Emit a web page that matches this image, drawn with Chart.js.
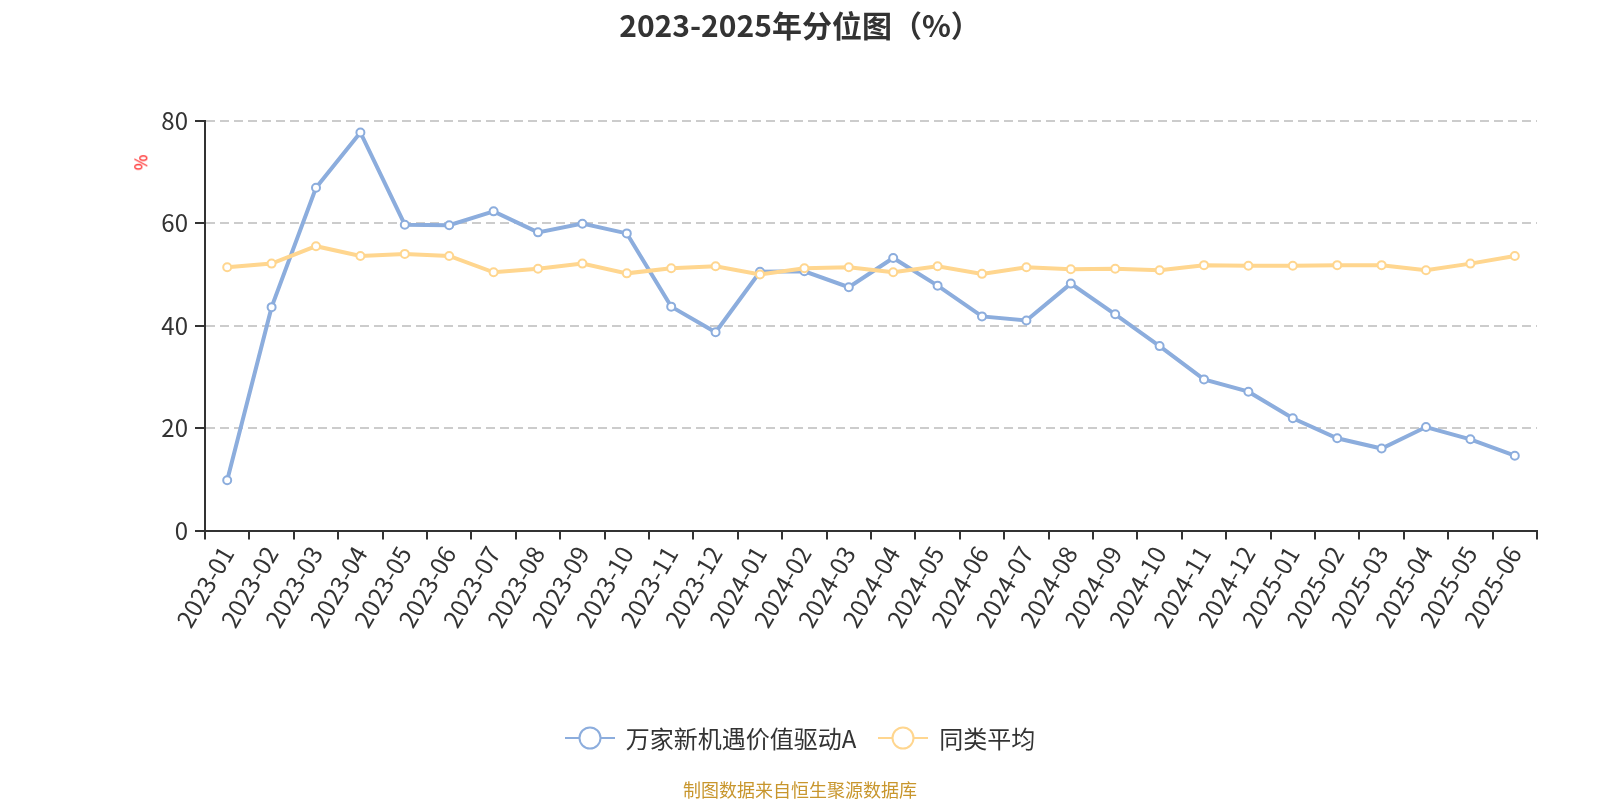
<!DOCTYPE html>
<html lang="zh-CN">
<head>
<meta charset="utf-8">
<title>2023-2025年分位图（%）</title>
<script src="https://cdn.jsdelivr.net/npm/chart.js@4.4.1/dist/chart.umd.min.js"></script>
<style>
  body { margin: 0; background: #fff; }
  #wrap { position: relative; width: 1600px; height: 800px; font-family: 'Noto Sans CJK SC', sans-serif; }
  #chart { position: absolute; left: 0; top: 0; }
  #title { position: absolute; left: 0; top: 2px; width: 1600px; text-align: center; font-size: 30px; font-weight: bold; color: #333; }
  #unit { position: absolute; left: 132px; top: 150px; font-size: 17px; color: red; transform: rotate(-90deg); }
  #legend { position: absolute; left: 0; top: 720px; width: 1600px; display: flex; justify-content: center; gap: 22px; }
  .legend-item { display: flex; align-items: center; gap: 11px; font-size: 24px; color: #333; }
  #source { position: absolute; left: 0; top: 776px; width: 1600px; text-align: center; font-size: 18px; color: #C8962D; }
</style>
</head>
<body>
<div id="wrap">
  <canvas id="chart" width="1600" height="800"></canvas>
  <div id="title">2023-2025年分位图（%）</div>
  <div id="unit">%</div>
  <div id="legend"></div>
  <div id="source">制图数据来自恒生聚源数据库</div>
</div>
<script>
// 月份
const months = [
  '2023-01', '2023-02', '2023-03', '2023-04', '2023-05', '2023-06',
  '2023-07', '2023-08', '2023-09', '2023-10', '2023-11', '2023-12',
  '2024-01', '2024-02', '2024-03', '2024-04', '2024-05', '2024-06',
  '2024-07', '2024-08', '2024-09', '2024-10', '2024-11', '2024-12',
  '2025-01', '2025-02', '2025-03', '2025-04', '2025-05', '2025-06'
];

// 基金分位
const fundValues = [
  9.8, 43.6, 66.9, 77.7, 59.7, 59.6, 62.3, 58.2, 59.9, 58.0, 43.7, 38.7,
  50.5, 50.6, 47.5, 53.2, 47.8, 41.8, 41.0, 48.2, 42.2, 36.0, 29.5, 27.1,
  21.9, 18.0, 16.0, 20.2, 17.8, 14.6
];

// 同类平均
const peerValues = [
  51.4, 52.1, 55.5, 53.6, 54.0, 53.6, 50.4, 51.1, 52.1, 50.2, 51.2, 51.6,
  50.0, 51.2, 51.4, 50.4, 51.6, 50.1, 51.4, 51.0, 51.1, 50.8, 51.8, 51.7,
  51.7, 51.8, 51.8, 50.8, 52.1, 53.6
];

const yTicks = [0, 20, 40, 60, 80];
const seriesNames = ['万家新机遇价值驱动A', '同类平均'];
const seriesColors = ['#8CADDD', '#FFD68F'];

/**
 * 图例（线 + 空心圆）
 */
function buildLegend() {
  const box = document.getElementById('legend');
  seriesNames.forEach((name, i) => {
    const c = seriesColors[i];
    box.innerHTML += `
      <div class="legend-item">
        <svg width="50" height="26">
          <line x1="0" y1="13" x2="50" y2="13" stroke="${c}" stroke-width="2"/>
          <circle cx="25" cy="13" r="10.5" fill="#fff" stroke="${c}" stroke-width="2"/>
        </svg>
        <span>${name}</span>
      </div>`;
  });
}

/**
 * 分位折线图
 */
function initQuantileChart() {
  const ctx = document.getElementById('chart').getContext('2d');
  Chart.defaults.font.family = "'Noto Sans CJK SC', sans-serif";

  const datasets = [fundValues, peerValues].map((values, i) => ({
    label: seriesNames[i],
    data: values,
    borderColor: seriesColors[i],
    backgroundColor: '#fff',
    pointBackgroundColor: '#fff',
    pointBorderColor: seriesColors[i],
    pointBorderWidth: 2,
    pointRadius: 4,
    borderWidth: 4,
    tension: 0,
    order: 2 - i
  }));

  new Chart(ctx, {
    type: 'line',
    data: { labels: months, datasets: datasets },
    options: {
      responsive: false,
      animation: false,
      layout: { padding: { top: 120.7, right: 63, bottom: 0, left: 0 } },
      plugins: {
        legend: { display: false },
        title: { display: false },
        tooltip: { enabled: false }
      },
      scales: {
        x: {
          type: 'category',
          offset: true,
          afterFit: scale => { scale.height = 800 - 530.5; },
          grid: {
            offset: true,
            drawOnChartArea: false,
            color: '#333',
            lineWidth: 2,
            tickLength: 9
          },
          border: { color: '#333', width: 2 },
          ticks: {
            color: '#333',
            font: { size: 24 },
            minRotation: 60,
            maxRotation: 60,
            autoSkip: false,
            padding: 2
          }
        },
        y: {
          min: 0,
          max: 80,
          afterFit: scale => { scale.width = 205; },
          afterBuildTicks: scale => { scale.ticks = yTicks.map(v => ({ value: v })); },
          grid: {
            color: '#ccc',
            lineWidth: 2,
            tickColor: '#333',
            tickWidth: 2,
            tickLength: 10,
            tickBorderDash: []
          },
          border: { color: '#333', width: 2, dash: [9, 5] },
          ticks: {
            color: '#333',
            font: { size: 24 },
            padding: 7
          }
        }
      }
    }
  });
}

buildLegend();
initQuantileChart();
</script>
</body>
</html>
